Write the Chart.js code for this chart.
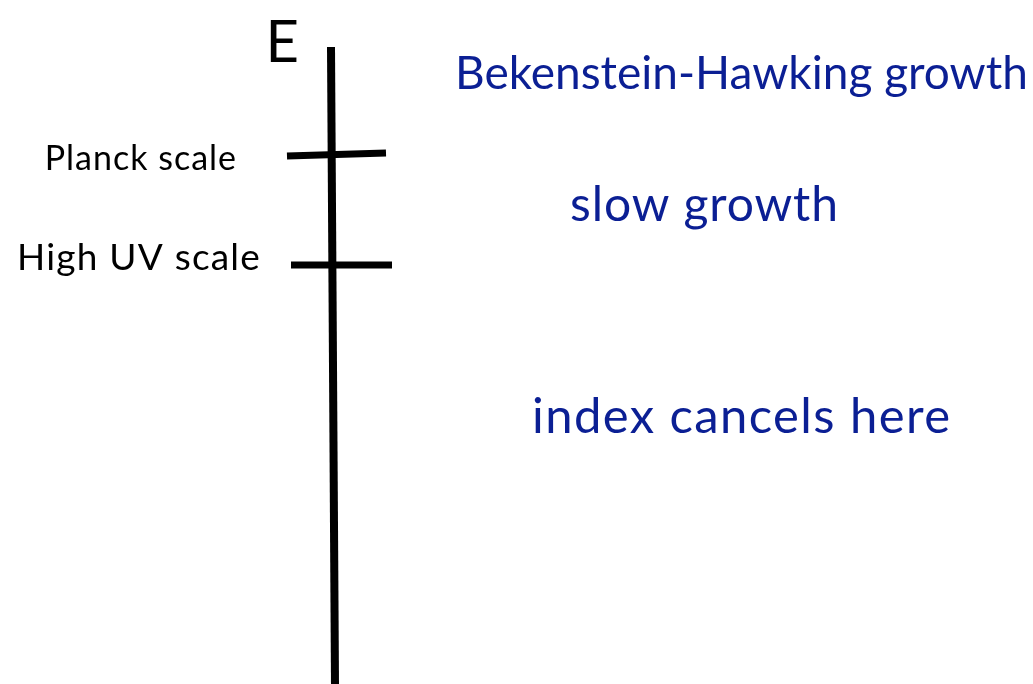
<!DOCTYPE html>
<html>
<head>
<meta charset="utf-8">
<script src="https://cdn.jsdelivr.net/npm/chart.js@4/dist/chart.umd.min.js"></script>
<style>
  body { margin: 0; background: #fff; }
  #wrap { width: 1033px; height: 684px; }
</style>
</head>
<body>
<div id="wrap"><canvas id="myChart" width="1033" height="684"></canvas></div>
<script>
// energy axis, top of picture = high energy (units are picture rows)
var axisTitle = 'E';
var axisTop = 47;
var axisBottom = 684;

var scaleNames = ['Planck scale', 'High UV scale'];
var scaleLevels = [155, 264];

var regimeNames = ['Bekenstein-Hawking growth', 'slow growth', 'index cancels here'];
var regimeLevels = [89, 221, 433];

// styles
var blue = '#0b1f94';
var font = 'Lato, "Open Sans", sans-serif';
var axisX = 333;
var tickLeft = [287, 291];
var tickRight = [386, 392];
var scaleLabelRight = [237, 261];
var scaleLabelDy = [15, 6];
var scaleLabelSize = [34, 37];
var scaleLabelSpacing = [1, 1.2];
var regimeX = [455, 570, 532];
var regimeSize = [46, 48, 49];
var regimeSpacing = [0, 0.9, 1.4];

var datasets = [{
    data: [{x: axisX - 2, y: axisTop}, {x: axisX + 2, y: axisBottom}],
    borderColor: '#000',
    borderWidth: 8
}];
scaleLevels.forEach(function (lv, i) {
    datasets.push({
        data: [{x: tickLeft[i], y: lv + 1}, {x: tickRight[i], y: lv - (i == 0 ? 2 : -1)}],
        borderColor: '#000',
        borderWidth: 7
    });
});

var textPlugin = {
    id: 'labels',
    afterDatasetsDraw: function (chart) {
        var c = chart.ctx;
        var xs = chart.scales.x, ys = chart.scales.y;
        c.save();
        c.textBaseline = 'alphabetic';
        c.fillStyle = '#000';
        c.textAlign = 'right';
        c.font = '400 58px ' + font;
        c.fillText(axisTitle, xs.getPixelForValue(axisX - 34), ys.getPixelForValue(axisTop + 15));
        scaleNames.forEach(function (name, i) {
            c.font = '400 ' + scaleLabelSize[i] + 'px ' + font;
            c.letterSpacing = scaleLabelSpacing[i] + 'px';
            c.fillText(name, xs.getPixelForValue(scaleLabelRight[i]), ys.getPixelForValue(scaleLevels[i] + scaleLabelDy[i]));
        });
        c.textAlign = 'left';
        c.fillStyle = blue;
        regimeNames.forEach(function (name, i) {
            c.font = '400 ' + regimeSize[i] + 'px ' + font;
            c.letterSpacing = regimeSpacing[i] + 'px';
            c.fillText(name, xs.getPixelForValue(regimeX[i]), ys.getPixelForValue(regimeLevels[i]));
        });
        c.restore();
    }
};

var ctx = document.getElementById('myChart').getContext('2d');
var myChart = new Chart(ctx, {
    type: 'scatter',
    data: { datasets: datasets },
    options: {
        responsive: false,
        animation: false,
        showLine: true,
        layout: { padding: 0 },
        elements: { point: { radius: 0 }, line: { borderCapStyle: 'butt' } },
        scales: {
            x: { type: 'linear', min: 0, max: 1033, display: false },
            y: { type: 'linear', min: 0, max: 684, reverse: true, display: false }
        },
        plugins: { legend: { display: false }, tooltip: { enabled: false } }
    },
    plugins: [textPlugin]
});
</script>
</body>
</html>
